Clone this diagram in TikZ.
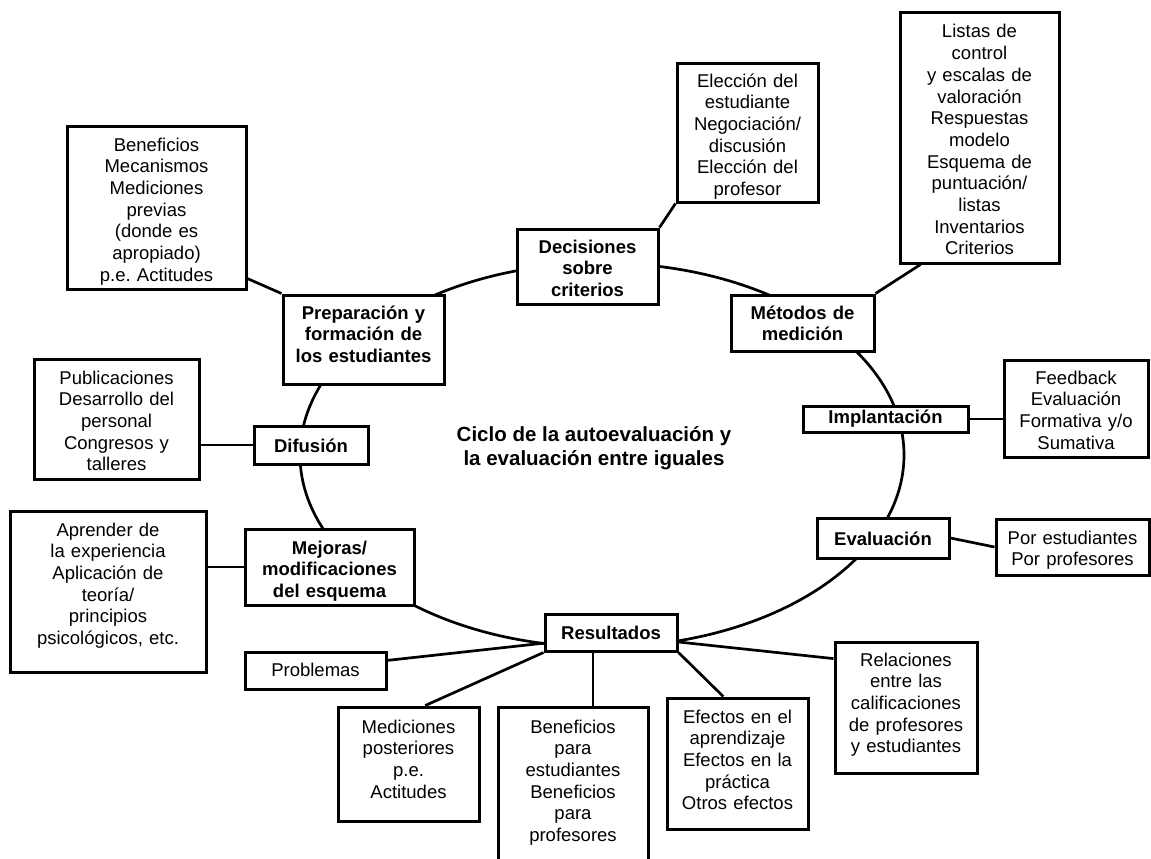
\documentclass[tikz,border=0pt]{standalone}
\usepackage{fontspec}
\setmainfont{Liberation Sans}
\usetikzlibrary{calc}
\frenchspacing
\tikzstyle{box} = [rectangle, draw=black, line width=3pt, fill=white, inner sep=0pt, align=center, font=\fontsize{18.5}{21.7}\selectfont]
\tikzstyle{stage} = [box, font=\fontsize{18.5}{21.7}\selectfont\bfseries]
\tikzstyle{title} = [align=center, font=\fontsize{20.5}{23.5}\selectfont\bfseries]
\tikzstyle{link} = [line width=2.7pt]

\begin{document}
\begin{tikzpicture}[x=1pt, y=-1pt]
    \useasboundingbox (0,0) rectangle (1151,859);
    % the cycle
    \draw[link] (602,455) ellipse [x radius=302pt, y radius=192pt];
    \node at (594,448) [title] (cycle) {Ciclo de la autoevaluación y\\la evaluación entre iguales};

    % stages
    \node at (363.5,339.5) [stage, text width=161pt, text height=24pt, text depth=65pt] (prep) {Preparación y\\formación de\\los estudiantes};
    \node at (587.5,266.5) [stage, text width=141pt, text height=24pt, text depth=51pt] (decis) {Decisiones\\sobre\\criterios};
    \node at (802.5,323) [stage, text width=143pt, text height=24pt, text depth=32pt] (metod) {Métodos de\\medición};
    \node at (885.5,419) [stage, text width=165pt, text height=17pt, text depth=9pt] (impl) {Implantación};
    \node at (883,538) [stage, text width=132pt, text height=27pt, text depth=13pt] (evalu) {Evaluación};
    \node at (611,632.5) [stage, text width=132pt, text height=25pt, text depth=12pt] (result) {Resultados};
    \node at (329.5,567) [stage, text width=169pt, text height=25pt, text depth=51pt] (mejor) {Mejoras/\\modificaciones\\del esquema};
    \node at (311,445) [stage, text width=114pt, text height=26pt, text depth=12pt] (difus) {Difusión};

    % details
    \node at (156.5,207.5) [box, text width=179pt, text height=25pt, text depth=138pt] (benef) {Beneficios\\Mecanismos\\Mediciones\\previas\\(donde es\\apropiado)\\p.e. Actitudes};
    \node at (747.5,133) [box, text width=141pt, text height=23pt, text depth=115pt] (elecc) {Elección del\\estudiante\\Negociación/\\discusión\\Elección del\\profesor};
    \node at (979.5,138) [box, text width=159pt, text height=25pt, text depth=225pt] (listas) {Listas de\\control\\y escalas de\\valoración\\Respuestas\\modelo\\Esquema de\\puntuación/\\listas\\Inventarios\\Criterios};
    \node at (1076,408.5) [box, text width=144pt, text height=24pt, text depth=73pt] (feedb) {Feedback\\Evaluación\\Formativa y/o\\Sumativa};
    \node at (1072.5,547) [box, text width=153pt, text height=25pt, text depth=31pt] (porest) {Por estudiantes\\Por profesores};
    \node at (116.5,419) [box, text width=165pt, text height=25pt, text depth=95pt] (publ) {Publicaciones\\Desarrollo del\\personal\\Congresos y\\talleres};
    \node at (108,591.5) [box, text width=196pt, text height=25pt, text depth=136pt] (aprend) {Aprender de\\la experiencia\\Aplicación de\\teoría/\\principios\\psicológicos, etc.};
    \node at (315.5,670.5) [box, text width=141pt, text height=24pt, text depth=13pt] (probl) {Problemas};
    \node at (408.5,764) [box, text width=141pt, text height=26pt, text depth=88pt] (medic) {Mediciones\\posteriores\\p.e.\\Actitudes};
    \node at (573,793.5) [box, text width=150pt, text height=26pt, text depth=147pt] (benpara) {Beneficios\\para\\estudiantes\\Beneficios\\para\\profesores};
    \node at (737.5,763.5) [box, text width=141pt, text height=25pt, text depth=106pt] (efect) {Efectos en el\\aprendizaje\\Efectos en la\\práctica\\Otros efectos};
    \node at (906,707.5) [box, text width=142pt, text height=24pt, text depth=107pt] (relac) {Relaciones\\entre las\\calificaciones\\de profesores\\y estudiantes};

    % links
    \draw[link] (benef.-38) -- (prep.north west);
    \draw[link] (decis.north east) -- (elecc.south west);
    \draw[link] (metod.north east) -- (listas.-115);
    \draw[link] (impl.east) -- (impl.east -| feedb.west);
    \draw[link] (evalu.east) -- (porest.west);
    \draw[link] (difus.west) -- (difus.west -| publ.east);
    \draw[link] (mejor.west) -- (mejor.west -| aprend.east);
    \draw[link] (result.-171) -- (probl.8);
    \draw[link] (result.south west) -- (medic.74);
    \draw[link] ([xshift=-18pt]result.south) -- ([xshift=-18pt]result.south |- benpara.north);
    \draw[link] (result.south east) -- (efect.102);
    \draw[link] (result.-8) -- (relac.146);
\end{tikzpicture}
\end{document}
